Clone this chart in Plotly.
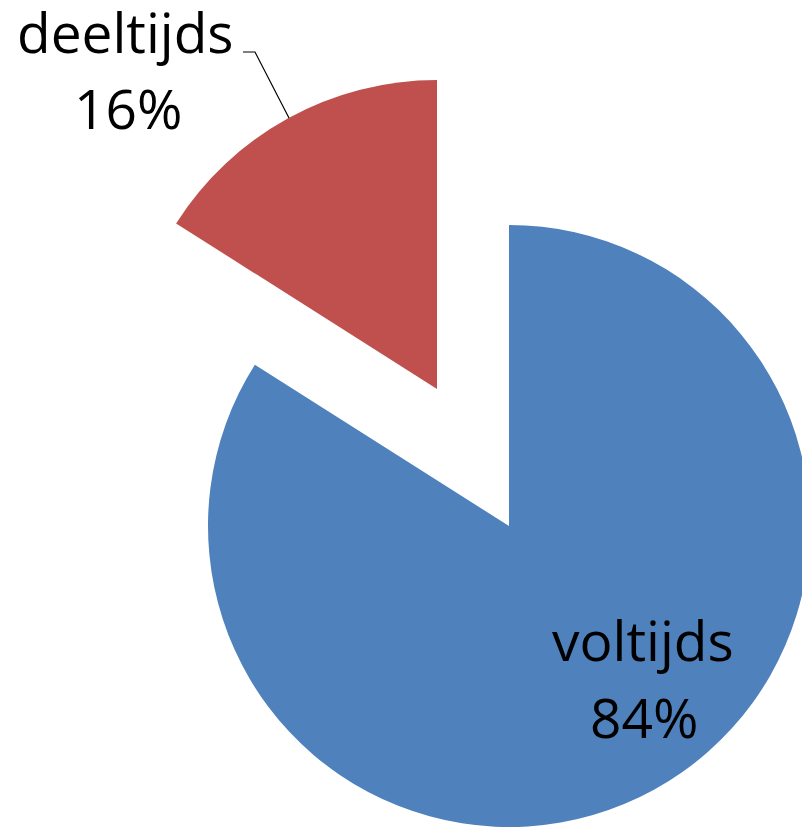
import plotly.graph_objects as go

labels = ["voltijds", "deeltijds"]
values = [84, 16]
colors = ["#4F81BD", "#C0504D"]
percents = [round(100 * v / sum(values)) for v in values]

# figure size chosen so that, with the page's 8px body margin, it fills the window exactly
W, H = 802, 827
transparent = "rgba(0,0,0,0)"

fig = go.Figure()

# Main (blue) slice
fig.add_trace(go.Pie(
    labels=labels, values=values, sort=False, direction="clockwise", rotation=0,
    marker=dict(colors=[colors[0], transparent], line=dict(width=0)),
    textinfo="none", hoverinfo="label+percent", showlegend=False,
    domain=dict(x=[200 / W, 1.0], y=[1 - 819 / H, 1 - 217 / H]),
))

# Exploded (red) slice
fig.add_trace(go.Pie(
    labels=labels, values=values, sort=False, direction="clockwise", rotation=0,
    marker=dict(colors=[transparent, colors[1]], line=dict(width=0)),
    textinfo="none", hoverinfo="label+percent", showlegend=False,
    domain=dict(x=[120 / W, 738 / W], y=[1 - 690 / H, 1 - 72 / H]),
))

font = dict(family="Open Sans, Carlito, Calibri, sans-serif", size=55, color="black")


def add_text(txt, x, y):
    fig.add_annotation(
        text=txt, xref="paper", yref="paper", x=x / W, y=1 - y / H,
        xanchor="center", yanchor="middle", showarrow=False, font=font,
    )


add_text(labels[1], 117.5, 24)
add_text(f"{percents[1]}%", 120, 99)
add_text(labels[0], 635, 631)
add_text(f"{percents[0]}%", 636, 708)


# leader line
def px(x, y):
    return f"{x / W},{1 - y / H}"


fig.add_shape(
    type="path", xref="paper", yref="paper",
    path=f"M {px(235, 44)} L {px(247, 44)} L {px(281, 110)}",
    line=dict(color="black", width=1.2),
)

fig.update_layout(
    width=W, height=H, margin=dict(l=0, r=0, t=0, b=0),
    paper_bgcolor="white", plot_bgcolor="white",
)

fig.write_html("out.html")
